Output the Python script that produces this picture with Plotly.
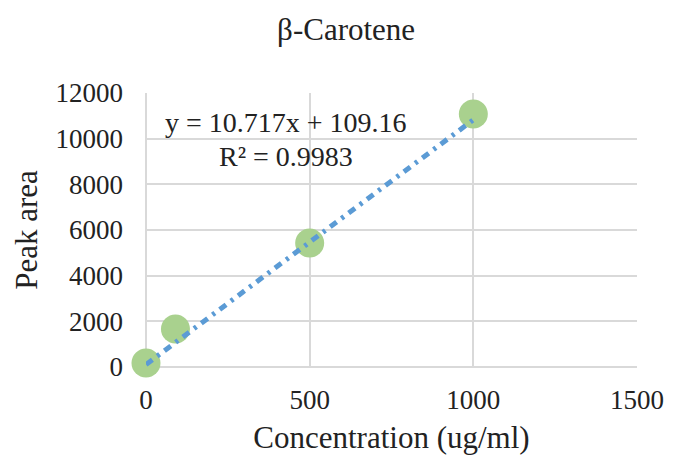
import plotly.graph_objects as go

# Data
concentration = [0, 90, 500, 1000]
peak_area = [180, 1660, 5430, 11080]

# Trendline shown on the chart
slope = 10.717
intercept = 109.16
r2 = 0.9983
trend_x = [0, 1000]
trend_y = [slope * v + intercept for v in trend_x]

x_ticks = [0, 500, 1000, 1500]
y_ticks = [0, 2000, 4000, 6000, 8000, 10000, 12000]

FONT = "Liberation Serif"
GRID = "#D9D9D9"

fig = go.Figure()
fig.add_trace(go.Scatter(
    x=concentration, y=peak_area, mode="markers",
    marker=dict(size=29, color="#A9D18E", line=dict(width=0)),
    cliponaxis=False, showlegend=False))
fig.add_trace(go.Scatter(
    x=trend_x, y=trend_y, mode="lines",
    line=dict(color="#5B9BD5", width=5, dash="8px,6px,3px,6px"),
    cliponaxis=False, showlegend=False))

fig.add_annotation(x=427, y=10730, xref="x", yref="y", showarrow=False,
                   text=f"y = {slope}x + {intercept}",
                   font=dict(family=FONT, size=28, color="#222222"))
fig.add_annotation(x=427, y=9240, xref="x", yref="y", showarrow=False,
                   text=f"R² = {r2}",
                   font=dict(family=FONT, size=28, color="#222222"))

fig.update_layout(
    width=676, height=464,
    margin=dict(l=146, r=31, t=93, b=97),
    paper_bgcolor="white", plot_bgcolor="white",
    font=dict(family=FONT, color="#222222"),
    title=dict(text="β-Carotene", x=0.512, xanchor="center",
               y=1 - 29 / 464, yanchor="middle",
               font=dict(family=FONT, size=31, color="#222222")),
    xaxis=dict(range=[0, 1500], tickvals=x_ticks, ticktext=[str(v) for v in x_ticks],
               showgrid=True, gridcolor=GRID, gridwidth=1.5,
               zeroline=True, zerolinecolor=GRID, zerolinewidth=1.5,
               showline=False, ticks="", ticklabelstandoff=14,
               tickfont=dict(family=FONT, size=27, color="#222222"),
               title=dict(text="Concentration (ug/ml)", standoff=12,
                          font=dict(family=FONT, size=31, color="#222222"))),
    yaxis=dict(range=[0, 12000], tickvals=y_ticks, ticktext=[str(v) for v in y_ticks],
               showgrid=True, gridcolor=GRID, gridwidth=1.5,
               zeroline=True, zerolinecolor=GRID, zerolinewidth=1.5,
               showline=False, ticks="", ticklabelstandoff=22,
               tickfont=dict(family=FONT, size=27, color="#222222"),
               title=dict(text="Peak area", standoff=8,
                          font=dict(family=FONT, size=31, color="#222222"))),
)

fig.write_html("out.html")
